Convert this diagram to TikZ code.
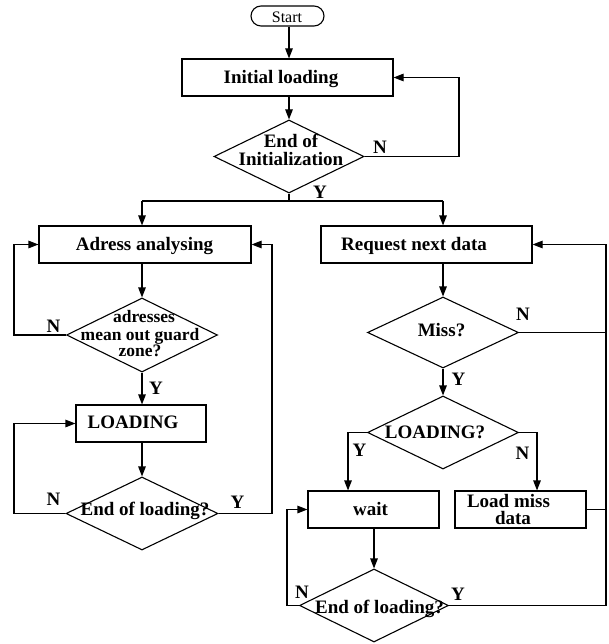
\documentclass[tikz,border=0pt]{standalone}
\usepackage{fontspec}
\setmainfont{Liberation Serif}
\usetikzlibrary{arrows.meta,shapes.geometric}
\begin{document}
\begin{tikzpicture}[x=1pt,y=-1pt,
  line width=1.1pt,
  arr/.style={-{Triangle[length=10pt,width=7.5pt]}},
  box/.style={draw, rectangle, inner sep=0pt},
  dia/.style={draw, diamond, inner sep=0pt},
  txt/.style={font=\bfseries\fontsize{19}{17}\selectfont, inner sep=0pt, anchor=base},
  stxt/.style={font=\bfseries\fontsize{17.5}{17}\selectfont, inner sep=0pt, anchor=base},
  lab/.style={font=\bfseries\fontsize{19}{17}\selectfont, inner sep=0pt},
]
\useasboundingbox (0,0) rectangle (608,644);
% ---- shapes
\node[box, minimum width=73pt, minimum height=20pt, rounded corners=10pt] (start) at (287.5,16) {};
\node[box, minimum width=211pt, minimum height=37pt] (init) at (287.5,77.5) {};
\node[dia, minimum width=150pt, minimum height=73pt] (d0) at (289,156.5) {};
\node[box, minimum width=212pt, minimum height=37pt] (aa) at (145,244.5) {};
\node[dia, minimum width=151pt, minimum height=74pt] (d1) at (142,335) {};
\node[box, minimum width=130pt, minimum height=37pt] (load) at (141,423.5) {};
\node[dia, minimum width=152pt, minimum height=73pt] (d2) at (142,513.5) {};
\node[box, minimum width=211pt, minimum height=37pt] (rnd) at (426.5,244.5) {};
\node[dia, minimum width=151pt, minimum height=71pt] (miss) at (443,332.5) {};
\node[dia, minimum width=151pt, minimum height=73pt] (ld) at (443,432.5) {};
\node[box, minimum width=131pt, minimum height=37pt] (wait) at (373.5,509.5) {};
\node[box, minimum width=131pt, minimum height=37pt] (lm) at (520.5,509.5) {};
\node[dia, minimum width=149pt, minimum height=73pt] (d5) at (374,605.5) {};
% ---- texts
\node[font=\fontsize{16}{16}\selectfont, inner sep=0pt, anchor=base] (tstart) at (287,22.5) {Start};
\node[txt] (tinit) at (281,83.3) {Initial loading};
\node[txt] (td0a) at (291,148) {End of};
\node[txt] (td0b) at (291,165.5) {Initialization};
\node[txt] (taa) at (144.5,250.7) {Adress analysing};
\node[stxt] (td1a) at (144,322.7) {adresses};
\node[stxt] (td1b) at (140,340) {mean out guard};
\node[stxt] (td1c) at (140,356.7) {zone?};
\node[txt] (tload) at (133,428.3) {LOADING};
\node[txt] (td2) at (145,515) {End of loading?};
\node[txt] (trnd) at (414,250.7) {Request next data};
\node[txt] (tmiss) at (441.5,336.7) {Miss?};
\node[txt] (tld) at (435,438.3) {LOADING?};
\node[txt] (twait) at (370.5,515) {wait};
\node[txt] (tlma) at (508.5,507) {Load miss};
\node[txt] (tlmb) at (513,524) {data};
\node[txt] (td5) at (379.5,613) {End of loading?};
% ---- labels
\node[lab] (n0) at (380,147) {N};
\node[lab] (y0) at (320,192.5) {Y};
\node[lab] (n1) at (53.5,326) {N};
\node[lab] (y1) at (156,388.5) {Y};
\node[lab] (n2) at (53.5,499) {N};
\node[lab] (y2) at (237.5,502.5) {Y};
\node[lab] (n3) at (523,314) {N};
\node[lab] (y3) at (458.5,379) {Y};
\node[lab] (y4) at (359.5,450) {Y};
\node[lab] (n4) at (522.5,453) {N};
\node[lab] (n5) at (302,592) {N};
\node[lab] (y5) at (458,594) {Y};
% ---- coordinates
\coordinate (sl) at (142,201);
\coordinate (sr) at (443,201);
\coordinate (c0) at (459,0);
\coordinate (cl) at (14,0);
\coordinate (cm) at (272,0);
\coordinate (cr) at (606,0);
\coordinate (cw) at (287,0);
\coordinate (cy) at (348,0);
\coordinate (cn) at (537,0);
\coordinate (ct) at (289,0);
% ---- connectors
\draw[arr] (start.south -| ct) -- (init.north -| ct);
\draw[arr] (init.south -| ct) -- (d0.north);
\draw[arr] (d0.east) -- (d0.east -| c0) |- (init.east);
\draw (d0.south) -- (d0.south |- sl);
\draw (sl) -- (sr);
\draw[arr] (sl) -- (sl |- aa.north);
\draw[arr] (sr) -- (sr |- rnd.north);
% left column
\draw[arr] (aa.south -| d1.north) -- (d1.north);
\draw[arr] (d1.west) -- (d1.west -| cl) |- (aa.west);
\draw[arr] (d1.south) -- (d1.south |- load.north);
\draw[arr] (load.south -| d2.north) -- (d2.north);
\draw[arr] (d2.west) -- (d2.west -| cl) |- (load.west);
\draw[arr] (d2.east) -- (d2.east -| cm) |- (aa.east);
% right column
\draw[arr] (rnd.south -| miss.north) -- (miss.north);
\draw (miss.east) -- (miss.east -| cr);
\draw[arr] (miss.south) -- (ld.north);
\draw[arr] (ld.west) -- (ld.west -| cy) -- (cy |- wait.north);
\draw[arr] (ld.east) -- (ld.east -| cn) -- (cn |- lm.north);
\draw (lm.east) -- (lm.east -| cr);
\draw[arr] (wait.south -| d5.north) -- (d5.north);
\draw[arr] (d5.east) -- (d5.east -| cr) |- (rnd.east);
\draw[arr] (d5.west) -- (d5.west -| cw) |- (wait.west);
\end{tikzpicture}
\end{document}
